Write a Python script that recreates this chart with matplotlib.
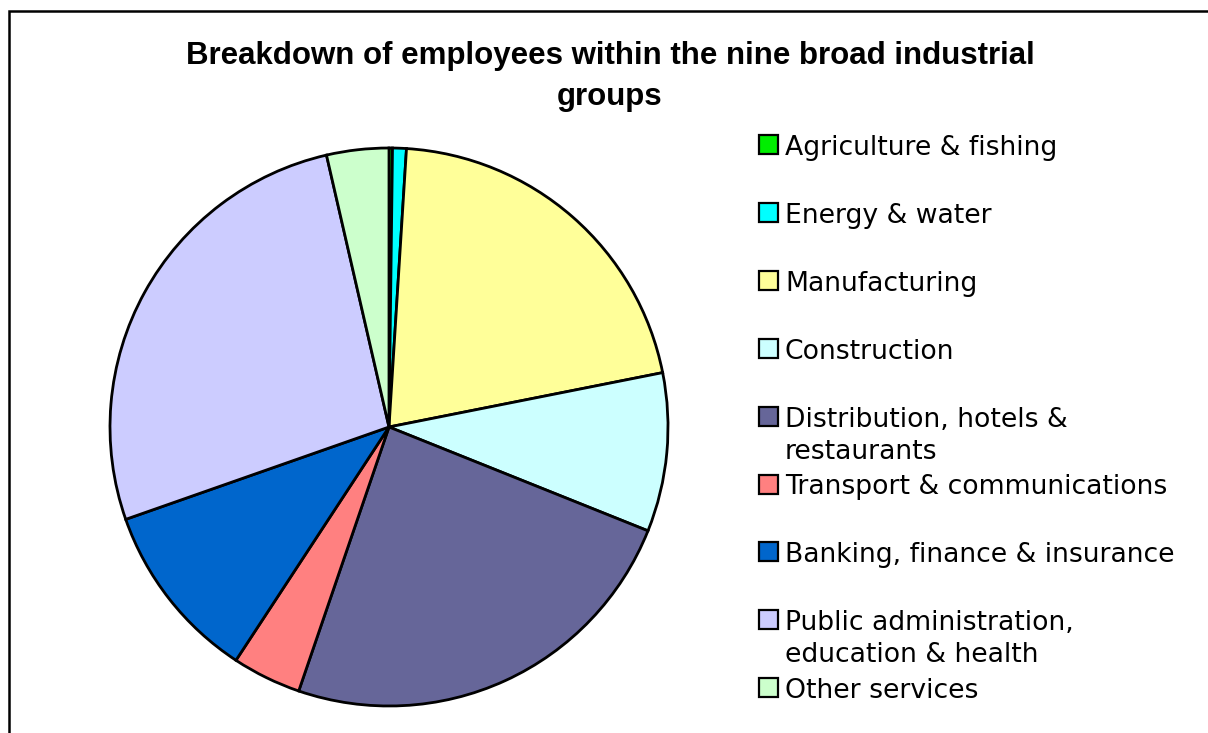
import matplotlib
matplotlib.use("Agg")
import matplotlib.pyplot as plt
from matplotlib.patches import Rectangle
from matplotlib import font_manager as fm

# Share of employees by broad industrial group (%)
categories = [
    "Agriculture & fishing",
    "Energy & water",
    "Manufacturing",
    "Construction",
    "Distribution, hotels &\nrestaurants",
    "Transport & communications",
    "Banking, finance & insurance",
    "Public administration,\neducation & health",
    "Other services",
]
shares = [0.2, 0.8, 20.9, 9.2, 24.2, 4.0, 10.4, 26.8, 3.6]
colors = ["#00EE00", "#00FFFF", "#FFFF99", "#CCFFFF", "#666699",
          "#FF8080", "#0066CC", "#CCCCFF", "#CCFFCC"]
title_lines = ["Breakdown of employees within the nine broad industrial", "groups"]


def title_font():
    # regular-width Liberation Sans Bold (skip the Narrow cut)
    for f in fm.fontManager.ttflist:
        if (f.name == "Liberation Sans" and f.weight in (700, "bold")
                and f.style == "normal" and "narrow" not in f.fname.lower()):
            return fm.FontProperties(fname=f.fname)
    return fm.FontProperties(family="DejaVu Sans", weight="bold")


W, H = 1208, 733
fig = plt.figure(figsize=(W / 100, H / 100), dpi=100)
fig.patch.set_facecolor("white")


def fx(px):
    return px / W


def fy(py):
    return 1 - py / H


# chart-area frame
fig.patches.append(Rectangle((fx(9), fy(800)), fx(1300), fy(11) - fy(800),
                             transform=fig.transFigure, fill=False,
                             edgecolor="black", linewidth=1.8))

# pie
cx, cy, r = 389, 427, 279
ax = fig.add_axes([fx(cx - r), fy(cy + r), fx(2 * r), (2 * r) / H])
wedges, _ = ax.pie(shares, colors=colors, startangle=90, counterclock=False,
                   wedgeprops=dict(edgecolor="black", linewidth=2.0))
for w in wedges:
    w.set_clip_on(False)
ax.set_xlim(-1, 1)
ax.set_ylim(-1, 1)
ax.set_aspect("equal")
ax.axis("off")

# title
tp = title_font()
tp.set_size(22.5)
for k, line in enumerate(title_lines):
    fig.text(fx(610), fy(64 + 41 * k), line, ha="center", va="baseline",
             fontproperties=tp)

# legend
base0, pitch, line_gap = 155, 67.9, 32
for i, (lab, col) in enumerate(zip(categories, colors)):
    yb = base0 + pitch * i
    fig.patches.append(Rectangle((fx(758.5), fy(yb - 1)), fx(19), 19 / H,
                                 transform=fig.transFigure, facecolor=col,
                                 edgecolor="black", linewidth=1.6))
    for j, line in enumerate(lab.split("\n")):
        fig.text(fx(785), fy(yb + line_gap * j), line, ha="left", va="baseline",
                 fontsize=19.2, family="DejaVu Sans")

fig.savefig("out.png", dpi=100)
